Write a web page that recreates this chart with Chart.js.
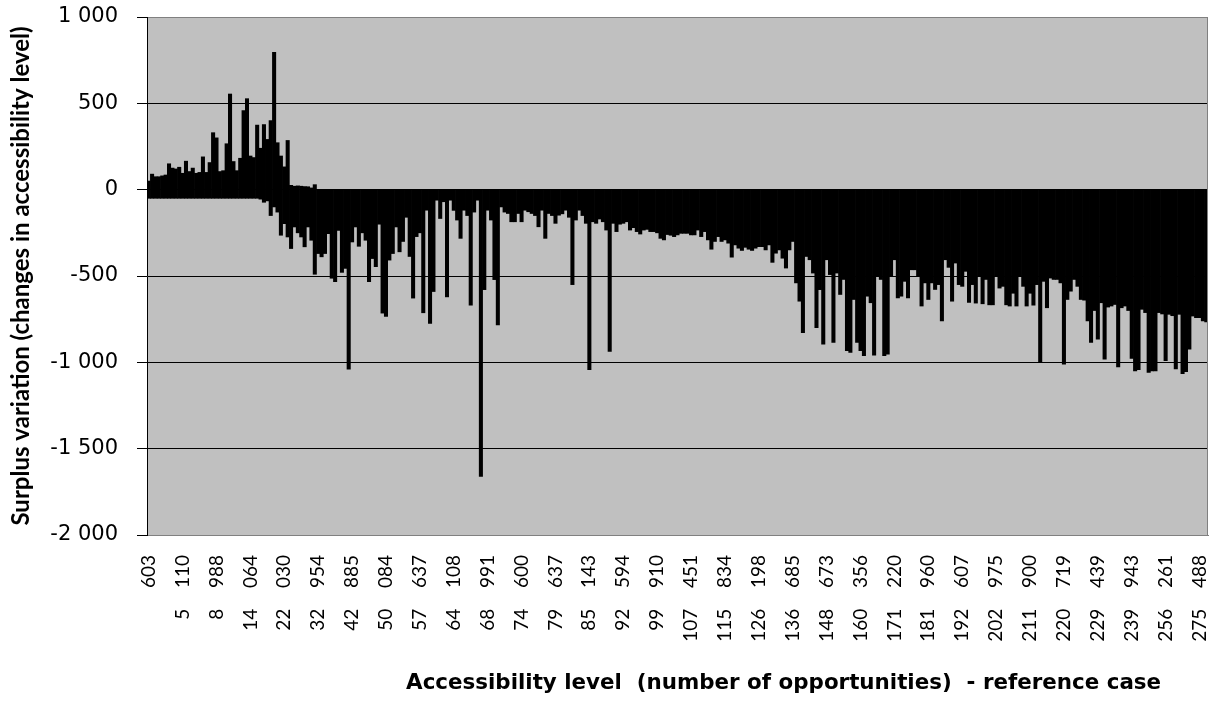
<!DOCTYPE html>
<html>
<head>
<meta charset="utf-8">
<script src="https://cdn.jsdelivr.net/npm/chart.js@4.4.0/dist/chart.umd.min.js"></script>
<style>
    html, body { margin: 0; padding: 0; background: #fff; }
    #wrap { width: 1210px; height: 712px; }
</style>
</head>
<body>
<div id="wrap"><canvas id="surplusChart"></canvas></div>
<script>
// Accessibility level tick labels (every 10th group of zones)
const tickLabels = ['603', '5 110', '8 988', '14 064', '22 030', '32 954', '42 885', '50 084',
    '57 637', '64 108', '68 991', '74 600', '79 637', '85 143', '92 594', '99 910',
    '107 451', '115 834', '126 198', '136 685', '148 673', '160 356', '171 220', '181 960',
    '192 607', '202 975', '211 900', '220 719', '229 439', '239 943', '256 261', '275 488'];

// Highest surplus variation inside each group
const groupMax = [
    50, 90, 75, 75, 80, 85, 150, 125, 120, 130,
    95, 165, 105, 125, 95, 100, 190, 100, 157, 330,
    300, 105, 110, 266, 554, 163, 110, 182, 458, 527,
    195, 186, 374, 240, 377, 291, 400, 795, 272, 195,
    132, 285, 25, 20, 22, 20, 18, 17, 10, 29,
    0, 0, 0, 0, 0, 0, 0, 0, 0, 0, 0, 0, 0, 0, 0, 0, 0, 0, 0, 0,
    0, 0, 0, 0, 0, 0, 0, 0, 0, 0, 0, 0, 0, 0, 0, 0, 0, 0, 0, 0,
    0, 0, 0, 0, 0, 0, 0, 0, 0, 0, 0, 0, 0, 0, 0, 0, 0, 0, 0, 0,
    0, 0, 0, 0, 0, 0, 0, 0, 0, 0, 0, 0, 0, 0, 0, 0, 0, 0, 0, 0,
    0, 0, 0, 0, 0, 0, 0, 0, 0, 0, 0, 0, 0, 0, 0, 0, 0, 0, 0, 0,
    0, 0, 0, 0, 0, 0, 0, 0, 0, 0, 0, 0, 0, 0, 0, 0, 0, 0, 0, 0,
    0, 0, 0, 0, 0, 0, 0, 0, 0, 0, 0, 0, 0, 0, 0, 0, 0, 0, 0, 0,
    0, 0, 0, 0, 0, 0, 0, 0, 0, 0, 0, 0, 0, 0, 0, 0, 0, 0, 0, 0,
    0, 0, 0, 0, 0, 0, 0, 0, 0, 0, 0, 0, 0, 0, 0, 0, 0, 0, 0, 0,
    0, 0, 0, 0, 0, 0, 0, 0, 0, 0, 0, 0, 0, 0, 0, 0, 0, 0, 0, 0,
    0, 0, 0, 0, 0, 0, 0, 0, 0, 0, 0, 0, 0, 0, 0, 0, 0, 0, 0, 0,
    0, 0, 0, 0, 0, 0, 0, 0, 0, 0, 0, 0, 0, 0, 0, 0, 0, 0, 0, 0,
    0, 0, 0, 0, 0, 0, 0, 0, 0, 0, 0, 0, 0, 0, 0, 0, 0, 0, 0, 0,
    0, 0, 0
];

// Lowest surplus variation inside each group
const groupMin = [
    -50, -50, -50, -50, -50, -50, -50, -50, -50, -50,
    -50, -50, -50, -50, -50, -50, -50, -50, -50, -50,
    -50, -50, -50, -50, -50, -50, -50, -50, -50, -50,
    -50, -50, -50, -55, -73, -65, -150, -100, -130, -264,
    -197, -274, -341, -216, -250, -274, -331, -216, -293, -490,
    -370, -389, -370, -255, -513, -533, -236, -479, -456, -1040,
    -303, -216, -328, -250, -293, -533, -399, -446, -200, -715,
    -734, -408, -370, -216, -360, -300, -160, -387, -628, -272,
    -250, -713, -119, -774, -590, -61, -167, -70, -621, -61,
    -120, -176, -282, -119, -150, -669, -130, -61, -1661, -579,
    -119, -176, -521, -784, -100, -130, -138, -186, -186, -138,
    -186, -119, -128, -138, -150, -215, -119, -282, -138, -150,
    -195, -148, -140, -119, -160, -550, -176, -119, -150, -195,
    -1042, -186, -195, -170, -186, -234, -937, -195, -243, -200,
    -195, -186, -234, -220, -243, -257, -234, -230, -243, -243,
    -250, -282, -291, -260, -264, -272, -262, -253, -253, -253,
    -262, -262, -234, -272, -243, -291, -345, -300, -272, -300,
    -291, -310, -391, -320, -339, -352, -334, -345, -352, -339,
    -330, -330, -349, -320, -421, -368, -349, -397, -454, -349,
    -300, -540, -646, -828, -387, -406, -483, -799, -579, -895,
    -406, -492, -885, -483, -607, -520, -933, -943, -636, -885,
    -933, -962, -617, -655, -958, -502, -520, -962, -953, -502,
    -406, -627, -617, -531, -627, -464, -464, -500, -674, -540,
    -636, -540, -578, -550, -760, -406, -450, -646, -425, -550,
    -560, -473, -653, -550, -657, -502, -661, -520, -667, -667,
    -502, -570, -560, -667, -674, -600, -674, -502, -560, -674,
    -600, -669, -550, -1000, -531, -684, -512, -520, -520, -540,
    -1011, -636, -588, -520, -560, -636, -640, -760, -885, -700,
    -866, -655, -981, -680, -674, -665, -1027, -684, -674, -700,
    -977, -1050, -1042, -693, -712, -1058, -1050, -1050, -712, -720,
    -991, -722, -730, -1038, -722, -1065, -1054, -924, -732, -741,
    -741, -760, -766
];

// one category per group, labelled every 10th
const categories = groupMin.map((v, i) => i % 10 === 0 ? tickLabels[i / 10] : '');

function spaced(v) {
    const s = Math.abs(v).toString().replace(/\B(?=(\d{3})+(?!\d))/g, ' ');
    return (v < 0 ? '-' : '') + s;
}

// grey plot area + right border + x axis title
const plotFrame = {
    id: 'plotFrame',
    beforeDraw(chart) {
        const { ctx, chartArea: a } = chart;
        ctx.save();
        ctx.fillStyle = '#c0c0c0';
        ctx.fillRect(a.left, a.top, a.right - a.left, a.bottom - a.top);
        ctx.restore();
    },
    afterDraw(chart) {
        const { ctx, chartArea: a } = chart;
        ctx.save();
        ctx.strokeStyle = '#808080';
        ctx.lineWidth = 1;
        ctx.beginPath();
        ctx.moveTo(a.right - 0.5, a.top);
        ctx.lineTo(a.right - 0.5, a.bottom);
        ctx.stroke();
        ctx.fillStyle = '#000';
        ctx.font = 'bold 21.4px "DejaVu Sans"';
        ctx.textAlign = 'center';
        ctx.textBaseline = 'middle';
        ctx.fillText('Accessibility level  (number of opportunities)  - reference case',
            a.left + (a.right - a.left) * 0.6, chart.height - 29);
        ctx.restore();
    }
};

new Chart(document.getElementById('surplusChart'), {
    type: 'bar',
    data: {
        labels: categories,
        datasets: [{
            label: 'Surplus variation',
            data: groupMin.map((lo, i) => [lo, groupMax[i]]),
            backgroundColor: '#000',
            borderWidth: 0,
            barPercentage: 1,
            categoryPercentage: 1
        }]
    },
    options: {
        responsive: true,
        maintainAspectRatio: false,
        animation: false,
        layout: {
            padding: { top: 17, right: 2, left: 0, bottom: 0 }
        },
        plugins: {
            legend: { display: false },
            tooltip: {
                callbacks: {
                    label: function(context) {
                        const r = context.raw;
                        return 'Surplus: ' + r[0] + ' to ' + r[1];
                    }
                }
            }
        },
        scales: {
            x: {
                afterFit: function(scale) {
                    scale.height = 177;
                    scale.paddingLeft = 0;
                    scale.paddingRight = 0;
                },
                grid: { display: false, drawTicks: false },
                border: { color: '#808080' },
                ticks: {
                    autoSkip: false,
                    minRotation: 90,
                    maxRotation: 90,
                    padding: 20,
                    color: '#000',
                    font: { family: 'Lato', size: 19 },
                    callback: function(value, index) {
                        const lab = this.getLabelForValue(value);
                        return lab ? lab.replace(' ', '\u2003\u2004') : '';
                    }
                }
            },
            y: {
                min: -2000,
                max: 1000,
                afterFit: function(scale) {
                    scale.width = 147;
                    scale.paddingTop = 0;
                    scale.paddingBottom = 0;
                },
                ticks: {
                    stepSize: 500,
                    padding: 19,
                    color: '#000',
                    font: { family: 'DejaVu Sans', size: 21 },
                    callback: function(value) { return spaced(value); }
                },
                grid: {
                    color: function(context) {
                        const v = context.tick ? context.tick.value : 0;
                        return (v === 1000 || v === -2000) ? '#808080' : '#000';
                    },
                    tickColor: '#000',
                    tickLength: 10
                },
                border: { color: '#000' },
                title: {
                    display: true,
                    text: 'Surplus variation (changes in accessibility level)',
                    color: '#000',
                    font: { family: 'Lato', size: 24, weight: 'bold' },
                    padding: { top: 7, bottom: 0 }
                }
            }
        }
    },
    plugins: [plotFrame]
});
</script>
</body>
</html>
